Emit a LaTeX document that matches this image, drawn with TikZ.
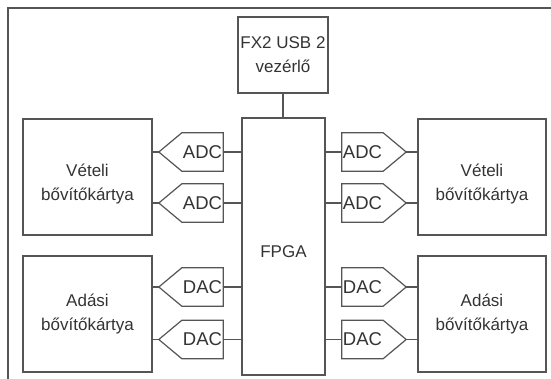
\documentclass[tikz,border=0pt]{standalone}
\usepackage{fontspec}
\setmainfont{Liberation Sans}
\definecolor{linec}{HTML}{555555}
\definecolor{textc}{HTML}{333333}
\tikzset{
  ln/.style={draw=linec, line width=1.2pt},
  blk/.style={ln, rectangle, inner sep=0pt},
  txt/.style={text=textc, font=\fontsize{17}{24}\selectfont, align=center, inner sep=0pt},
  conv/.style={txt, font=\fontsize{18.5}{24}\selectfont, minimum width=41pt, minimum height=38pt}
}
\begin{document}
\begin{tikzpicture}[x=1pt,y=-1pt]
\useasboundingbox (0,0) rectangle (551,379);
% frame
\draw[ln] (8,379) -- (8,8) -- (551,8);
% FX2
\node[blk, txt, minimum width=90pt, minimum height=76pt] (fx2) at (283,55) {FX2 USB 2\\vezérlő};
% FPGA
\node[blk, minimum width=83pt, minimum height=257pt] (fpga) at (283.5,246.5) {};
\node[txt] (fpgat) at (283.5,252) {FPGA};
\draw[ln] (fx2.south) -- (fpga.north -| fx2.south);
% boxes
\node[blk, minimum width=129pt, minimum height=116pt] (lrx) at (87.5,177) {};
\node[blk, minimum width=129pt, minimum height=116pt] (ltx) at (87.5,314) {};
\node[blk, minimum width=128pt, minimum height=116pt] (rrx) at (482,177) {};
\node[blk, minimum width=128pt, minimum height=116pt] (rtx) at (482,314) {};
\node[txt] (lrxt) at (87.5,184) {Vételi\\bővítőkártya};
\node[txt] (ltxt) at (87.5,314) {Adási\\bővítőkártya};
\node[txt] (rrxt) at (482,184) {Vételi\\bővítőkártya};
\node[txt] (rtxt) at (482,314) {Adási\\bővítőkártya};
% left converters
\foreach \n/\y/\t/\b in {la1/152/ADC/lrx, la2/203/ADC/lrx, ld1/287/DAC/ltx, ld2/339.5/DAC/ltx}{
  \node[conv] (\n) at (202.5,\y) {\t};
  \coordinate (\n t) at ([xshift=-23pt]\n.west);
  \draw[ln] (\n.north east) -- (\n.south east) -- (\n.south west) -- (\n t) -- (\n.north west) -- cycle;
  \draw[ln] (\n t) -- (\b.east |- \n t);
  \draw[ln] (\n.east) -- (fpga.west |- \n.east);
}
% right converters
\foreach \n/\y/\t/\b in {ra1/152/ADC/rrx, ra2/203/ADC/rrx, rd1/287/DAC/rtx, rd2/339.5/DAC/rtx}{
  \node[conv] (\n) at (362.5,\y) {\t};
  \coordinate (\n t) at ([xshift=23pt]\n.east);
  \draw[ln] (\n.north west) -- (\n.south west) -- (\n.south east) -- (\n t) -- (\n.north east) -- cycle;
  \draw[ln] (\n t) -- (\b.west |- \n t);
  \draw[ln] (\n.west) -- (fpga.east |- \n.west);
}
\end{tikzpicture}
\end{document}
